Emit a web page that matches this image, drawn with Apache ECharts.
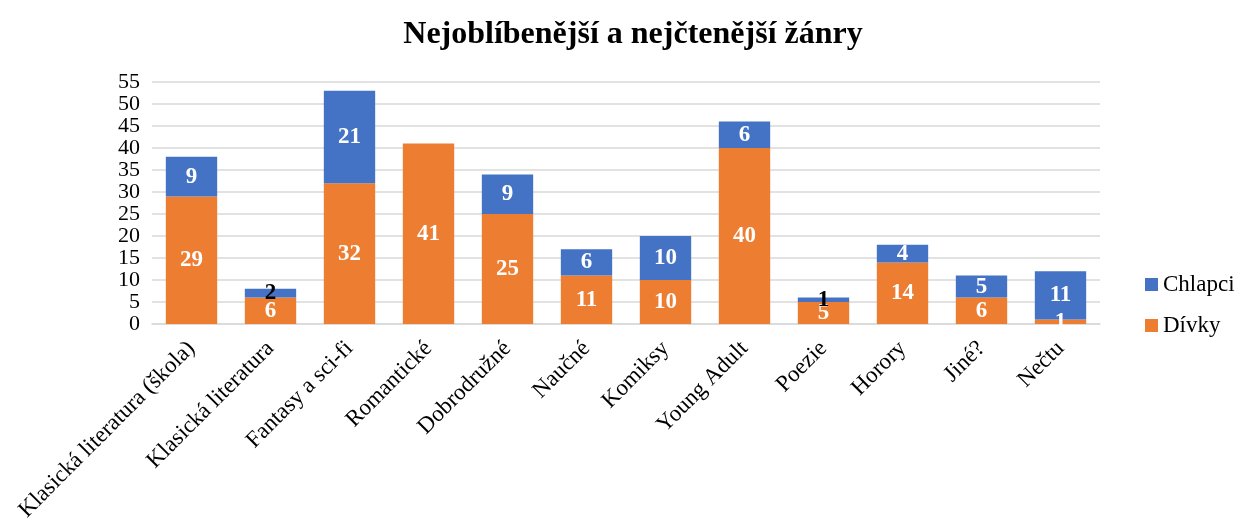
<!DOCTYPE html>
<html>
<head>
<meta charset="utf-8">
<script src="https://cdn.jsdelivr.net/npm/echarts@6/dist/echarts.min.js"></script>
<style>
  html, body { margin: 0; padding: 0; background: #fff; }
  #chart { width: 1235px; height: 528px; }
</style>
</head>
<body>
<div id="chart"></div>
<script>
var categories = ["Klasická literatura (škola)", "Klasická literatura", "Fantasy a sci-fi", "Romantické",
    "Dobrodružné", "Naučné", "Komiksy", "Young Adult", "Poezie", "Horory", "Jiné?", "Nečtu"];
var divky = [29, 6, 32, 41, 25, 11, 10, 40, 5, 14, 6, 1];
var chlapci = [9, 2, 21, 0, 9, 6, 10, 6, 1, 4, 5, 11];

var font = "Liberation Serif";

// malé úseky mají černý popisek
function buildData(values, smallLimit) {
    return values.map(function (v) {
        if (v > 0 && v <= smallLimit) {
            return { value: v, label: { color: "#000" } };
        }
        return v;
    });
}

var chart = echarts.init(document.getElementById("chart"));
var option = {
    animation: false,
    title: {
        text: "Nejoblíbenější a nejčtenější žánry",
        left: 628,
        top: 14,
        textAlign: "center",
        textStyle: { fontFamily: font, fontSize: 32, fontWeight: "bold", color: "#000" }
    },
    legend: {
        orient: "vertical",
        left: 1140,
        top: 268,
        itemGap: 18,
        itemWidth: 13,
        itemHeight: 13,
        icon: "rect",
        data: ["Chlapci", "Dívky"],
        textStyle: { fontFamily: font, fontSize: 23, color: "#000" }
    },
    grid: { left: 152, right: 135, top: 82, bottom: 204 },
    xAxis: {
        type: "category",
        data: categories,
        axisTick: { show: false },
        axisLine: { lineStyle: { color: "#d9d9d9", width: 1.5 } },
        axisLabel: {
            interval: 0,
            rotate: 45,
            margin: 21,
            fontFamily: font,
            fontSize: 23,
            color: "#000"
        }
    },
    yAxis: {
        type: "value",
        min: 0,
        max: 55,
        interval: 5,
        axisLine: { show: false },
        axisTick: { show: false },
        splitLine: { lineStyle: { color: "#d9d9d9", width: 1.5 } },
        axisLabel: { fontFamily: font, fontSize: 22, color: "#000", margin: 12 }
    },
    series: [
        {
            name: "Dívky",
            type: "bar",
            stack: "total",
            barWidth: "65%",
            itemStyle: { color: "#ED7D31" },
            label: {
                show: true,
                position: "inside",
                fontFamily: font,
                fontSize: 23,
                fontWeight: "bold",
                color: "#fff"
            },
            data: divky
        },
        {
            name: "Chlapci",
            type: "bar",
            stack: "total",
            barWidth: "65%",
            itemStyle: { color: "#4472C4" },
            label: {
                show: true,
                position: "inside",
                fontFamily: font,
                fontSize: 23,
                fontWeight: "bold",
                color: "#fff",
                formatter: function (p) { return p.value ? p.value : ""; }
            },
            data: buildData(chlapci, 2)
        }
    ]
};
chart.setOption(option);
</script>
</body>
</html>
